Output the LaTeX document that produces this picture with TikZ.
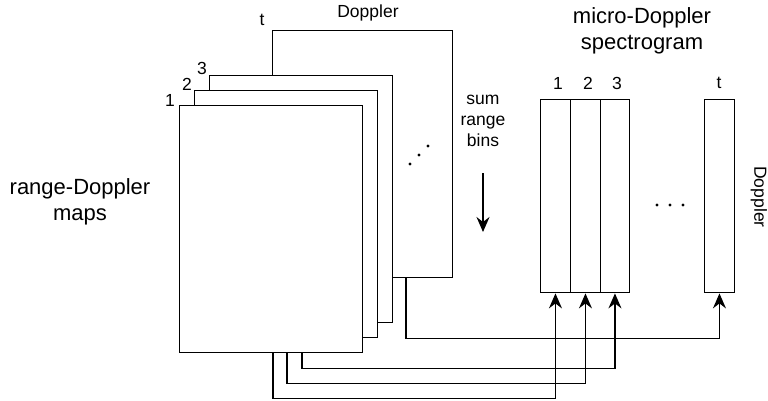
\documentclass[tikz,border=0pt]{standalone}
\usepackage{fontspec}
\setmainfont{Liberation Sans}
\usetikzlibrary{arrows.meta,calc,backgrounds}
\begin{document}
\begin{tikzpicture}[x=1pt,y=-1pt,
  lw/.style={line width=1.4pt},
  mapbox/.style={lw,draw=black,fill=white,minimum width=183pt,minimum height=247pt,inner sep=0pt,anchor=north west},
  colbox/.style={lw,draw=black,fill=white,minimum width=29.5pt,minimum height=193pt,inner sep=0pt,anchor=north west},
  big/.style={font=\fontsize{22}{25.5}\selectfont,align=center,inner sep=0pt},
  small/.style={font=\fontsize{17.5}{21}\selectfont,align=center,inner sep=0pt},
  arr/.style={lw,-{Stealth[length=15pt,width=13pt,inset=5pt]}},
  dot/.style={circle,fill=black,inner sep=0pt,minimum size=3.2pt}
]
\useasboundingbox (0,0) rectangle (768,401);
% range-Doppler maps stack
\node[mapbox,minimum width=180pt] (rt) at (272,30) {};
\node[mapbox] (r3) at (209,75) {};
\node[mapbox] (r2) at (194,90) {};
\node[mapbox] (r1) at (179,105) {};
% stack labels
\node[small] (lt) at (262,20) {t};
\node[small] (l3) at (202,68) {3};
\node[small] (l2) at (187,84) {2};
\node[small] (l1) at (170,100) {1};
\node[small] (dopt) at (368,13) {Doppler};
\node[big] (rdm) at (80,202) {range-Doppler\\maps};
% diagonal dots
\node[dot] (d1) at (410,164) {};
\node[dot] (d2) at (419,155) {};
\node[dot] (d3) at (428,146) {};
% sum range bins
\node[small] (srb) at (483,121) {sum\\range\\bins};
\coordinate (sa) at (483,173);
\coordinate (sb) at (483,232);
\draw[arr] (sa) -- (sb);
% spectrogram
\node[big] (title) at (642,31) {micro-Doppler\\spectrogram};
\node[colbox] (c1) at (540,99) {};
\node[colbox] (c2) at (570,99) {};
\node[colbox] (c3) at (599.5,99) {};
\node[colbox] (ct) at (704,99) {};
\node[small] (n1) at (558,83) {1};
\node[small] (n2) at (588,83) {2};
\node[small] (n3) at (617,83) {3};
\node[small] (nt) at (719,83) {t};
\node[dot] (e1) at (657,205) {};
\node[dot] (e2) at (670,205) {};
\node[dot] (e3) at (683,205) {};
\node[small,rotate=-90] (dopr) at (759,197) {Doppler};
% connectors (behind the maps)
\begin{scope}[on background layer]
\draw[arr] ([xshift=134pt]rt.south west) -- ++(0,60) -| (ct.south);
\draw[arr] ([xshift=93pt]r3.south west) -- ++(0,45) -| (c3.south);
\draw[arr] ([xshift=93pt]r2.south west) -- ++(0,45) -| (c2.south);
\draw[arr] ([xshift=94pt]r1.south west) -- ++(0,45) -| (c1.south);
\end{scope}
\end{tikzpicture}
\end{document}
